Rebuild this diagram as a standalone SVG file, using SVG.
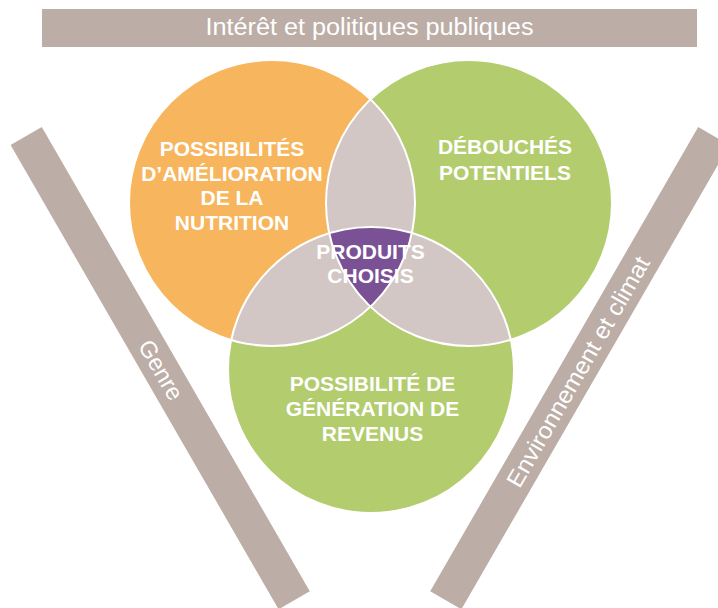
<svg xmlns="http://www.w3.org/2000/svg" width="718" height="608" viewBox="0 0 718 608">
  <style>
    .bar { fill: #bcada6; }
    .bartxt { fill: #ffffff; font-family: "Liberation Sans", Arial, sans-serif; font-size: 23.5px; }
    .lbl { fill: #ffffff; font-family: "Liberation Sans", Arial, sans-serif; font-size: 21px; font-weight: bold; text-anchor: middle; }
    .lens { fill: #d2c7c4; }
    .edge { fill: none; stroke: #ffffff; stroke-width: 2; }
  </style>
  <rect width="718" height="608" fill="#ffffff"/>

  <g id="bar-interet">
    <rect class="bar" x="42" y="9" width="655" height="38"/>
    <text class="bartxt" x="369.5" y="35" text-anchor="middle" textLength="328" lengthAdjust="spacingAndGlyphs">Intérêt et politiques publiques</text>
  </g>

  <g id="bar-genre" transform="translate(160.2,368.2) rotate(60)">
    <rect class="bar" x="-268" y="-18" width="536" height="36"/>
    <text class="bartxt" x="2" y="8.4" text-anchor="middle">Genre</text>
  </g>

  <g id="bar-environnement" transform="translate(579.8,368.2) rotate(-60)">
    <rect class="bar" x="-268" y="-18" width="536" height="36"/>
    <text class="bartxt" x="-4" y="8.4" text-anchor="middle" textLength="262" lengthAdjust="spacingAndGlyphs">Environnement et climat</text>
  </g>

  <g id="circle-nutrition">
    <circle cx="272" cy="203" r="143" fill="#f7b55d"/>
  </g>
  <g id="circle-debouches">
    <circle cx="469" cy="203" r="143" fill="#b2cc6e"/>
  </g>
  <g id="circle-revenus">
    <circle cx="371" cy="370" r="143" fill="#b2cc6e"/>
  </g>

  <g id="overlaps">
    <path class="lens" d="M370.5 99.3 A143 143 0 0 1 370.5 306.7 A143 143 0 0 1 370.5 99.3 Z"/>
    <path class="lens" d="M411.8 232.9 A143 143 0 0 1 231.2 340.1 A143 143 0 0 1 411.8 232.9 Z"/>
    <path class="lens" d="M510.8 339.8 A143 143 0 0 1 329.2 233.2 A143 143 0 0 1 510.8 339.8 Z"/>
  </g>

  <g id="produits-choisis">
    <path fill="#7b5196" d="M329.2 233.2 A143 143 0 0 1 411.8 232.9 A143 143 0 0 1 370.5 306.7 A143 143 0 0 1 329.2 233.2 Z"/>
  </g>

  <g id="outlines">
    <circle class="edge" cx="272" cy="203" r="143"/>
    <circle class="edge" cx="469" cy="203" r="143"/>
    <circle class="edge" cx="371" cy="370" r="143"/>
  </g>

  <g id="labels">
    <text class="lbl" x="232" y="156">POSSIBILITÉS</text>
    <text class="lbl" x="232" y="180.5">D’AMÉLIORATION</text>
    <text class="lbl" x="232" y="205">DE LA</text>
    <text class="lbl" x="232" y="229.5">NUTRITION</text>

    <text class="lbl" x="505" y="154">DÉBOUCHÉS</text>
    <text class="lbl" x="505" y="179.5">POTENTIELS</text>

    <text class="lbl" x="370.5" y="258.5">PRODUITS</text>
    <text class="lbl" x="370.5" y="282.5">CHOISIS</text>

    <text class="lbl" x="372.5" y="391">POSSIBILITÉ DE</text>
    <text class="lbl" x="372.5" y="416">GÉNÉRATION DE</text>
    <text class="lbl" x="372.5" y="440.5">REVENUS</text>
  </g>
</svg>
